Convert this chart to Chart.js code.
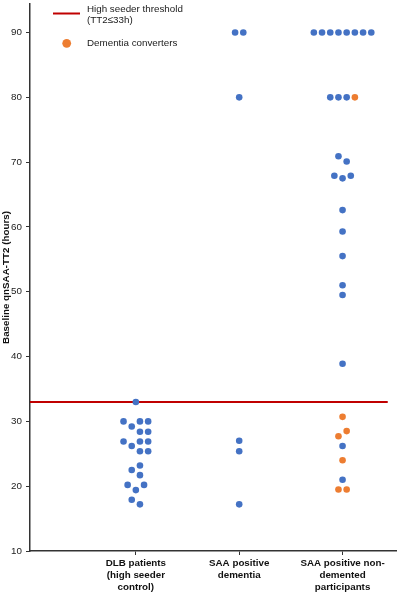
<!DOCTYPE html>
<html>
<head>
<meta charset="utf-8">
<script src="https://cdn.jsdelivr.net/npm/chart.js@4.4.1/dist/chart.umd.min.js"></script>
<style>
  html, body { margin: 0; padding: 0; background: #fff; }
  #wrap { position: relative; width: 400px; height: 592px; }
</style>
</head>
<body>
<div id="wrap"><canvas id="tt2-chart"></canvas></div>
<script>
const groupLabels = [
    ['DLB patients', '(high seeder', 'control)'],
    ['SAA positive', 'dementia'],
    ['SAA positive non-', 'demented', 'participants']
];
const groupPositions = [1, 2, 3];

// baseline qnSAA-TT2 (hours), slot = sideways shift in dot widths (swarm)
const dlbTT2 = [33, 30, 29.2, 30, 30, 28.4, 28.4, 26.9, 26.2, 26.9, 26.9, 25.4, 25.4, 23.2, 22.5, 21.7, 20.2, 20.2, 19.4, 17.9, 17.2];
const dlbSlot = [0, -1.5, -0.5, 0.5, 1.5, 0.5, 1.5, -1.5, -0.5, 0.5, 1.5, 0.5, 1.5, 0.5, -0.5, 0.5, -1, 1, 0, -0.5, 0.5];

const dementiaTT2 = [90, 90, 80, 27, 25.4, 17.2];
const dementiaSlot = [-0.5, 0.5, 0, 0, 0, 0];

const nonDementedTT2 = [90, 90, 90, 90, 90, 90, 90, 90, 80, 80, 80, 70.9, 70.1, 67.9, 67.5, 67.9, 62.6, 59.3, 55.5, 51.0, 49.5, 38.9, 26.2, 21.0];
const nonDementedSlot = [-3.5, -2.5, -1.5, -0.5, 0.5, 1.5, 2.5, 3.5, -1.5, -0.5, 0.5, -0.5, 0.5, -1, 0, 1, 0, 0, 0, 0, 0, 0, 0, 0];

// non-demented participants that converted to dementia
const converterTT2 = [80, 30.7, 28.5, 27.7, 24.0, 19.5, 19.5];
const converterSlot = [1.5, 0, 0.5, -0.5, 0, -0.5, 0.5];

const threshold = 33;
const thresholdLabel = ['High seeder threshold', '(TT2\u226433h)'];
const converterLabel = 'Dementia converters';

const slotWidth = 0.0794; // one dot width in x units
const blue = '#4472C4';
const orange = '#ED7D31';
const red = '#C00000';
const font = 'Arial, "Liberation Sans", sans-serif';

const swarm = (pos, values, slots) => values.map((v, i) => ({ x: pos + slots[i] * slotWidth, y: v }));

const participants = [
    ...swarm(groupPositions[0], dlbTT2, dlbSlot),
    ...swarm(groupPositions[1], dementiaTT2, dementiaSlot),
    ...swarm(groupPositions[2], nonDementedTT2, nonDementedSlot)
];
const converters = swarm(groupPositions[2], converterTT2, converterSlot);

// legend drawn inside the plot, top left
const insetLegend = {
    id: 'insetLegend',
    afterDraw(chart) {
        const c = chart.ctx;
        const line = chart.data.datasets[2];
        const conv = chart.data.datasets[1];
        c.save();
        c.strokeStyle = line.borderColor;
        c.lineWidth = 2;
        c.beginPath();
        c.moveTo(53, 13.5);
        c.lineTo(80, 13.5);
        c.stroke();
        c.fillStyle = conv.backgroundColor;
        c.beginPath();
        c.arc(66.7, 43.3, 4.4, 0, Math.PI * 2);
        c.fill();
        c.fillStyle = '#1a1a1a';
        c.font = '9.8px ' + font;
        c.textBaseline = 'middle';
        c.textAlign = 'left';
        line.label.forEach((t, i) => c.fillText(t, 87, 9 + i * 11.5));
        c.fillText(conv.label, 87, 43.5);
        c.restore();
    }
};

const ctx = document.getElementById('tt2-chart').getContext('2d');

let tt2Chart = new Chart(ctx, {
    type: 'scatter',
    data: {
        datasets: [{
            label: 'Participants',
            data: participants,
            backgroundColor: blue,
            borderWidth: 0,
            pointRadius: 3.3,
            order: 1
        }, {
            label: converterLabel,
            data: converters,
            backgroundColor: orange,
            borderWidth: 0,
            pointRadius: 3.3,
            order: 0
        }, {
            type: 'line',
            label: thresholdLabel,
            data: [{ x: -0.03, y: threshold }, { x: 3.437, y: threshold }],
            borderColor: red,
            borderWidth: 2,
            pointRadius: 0,
            order: 3
        }]
    },
    options: {
        responsive: true,
        maintainAspectRatio: false,
        animation: false,
        events: [],
        layout: { padding: 0 },
        plugins: {
            legend: { display: false },
            tooltip: { enabled: false }
        },
        scales: {
            x: {
                type: 'linear',
                min: -0.024,
                max: 3.517,
                afterBuildTicks: (scale) => { scale.ticks = groupPositions.map(v => ({ value: v })); },
                afterFit: (scale) => {
                    scale.height = 41;
                    scale.paddingLeft = 0;
                    scale.paddingRight = 0;
                },
                ticks: {
                    autoSkip: false,
                    maxRotation: 0,
                    padding: 3,
                    color: '#111',
                    font: { family: font, size: 9.8, weight: 'bold', lineHeight: 1.18 },
                    callback: (v) => groupLabels[groupPositions.indexOf(v)]
                },
                grid: { drawOnChartArea: false, drawTicks: true, tickLength: 4, color: '#333', lineWidth: 1 },
                border: { color: '#333', width: 1.5 }
            },
            y: {
                min: 10,
                max: 94.4,
                afterFit: (scale) => {
                    scale.width = 30;
                    scale.paddingTop = 0;
                    scale.paddingBottom = 0;
                },
                ticks: {
                    stepSize: 10,
                    includeBounds: false,
                    padding: 4,
                    color: '#222',
                    font: { family: font, size: 9.8 }
                },
                grid: { drawOnChartArea: false, drawTicks: true, tickLength: 4, color: '#333', lineWidth: 1 },
                border: { color: '#333', width: 1.5 },
                title: {
                    display: true,
                    text: 'Baseline qnSAA-TT2 (hours)',
                    color: '#111',
                    padding: { top: 0, bottom: 0 },
                    font: { family: font, size: 9.8, weight: 'bold' }
                }
            }
        }
    },
    plugins: [insetLegend]
});
</script>
</body>
</html>
